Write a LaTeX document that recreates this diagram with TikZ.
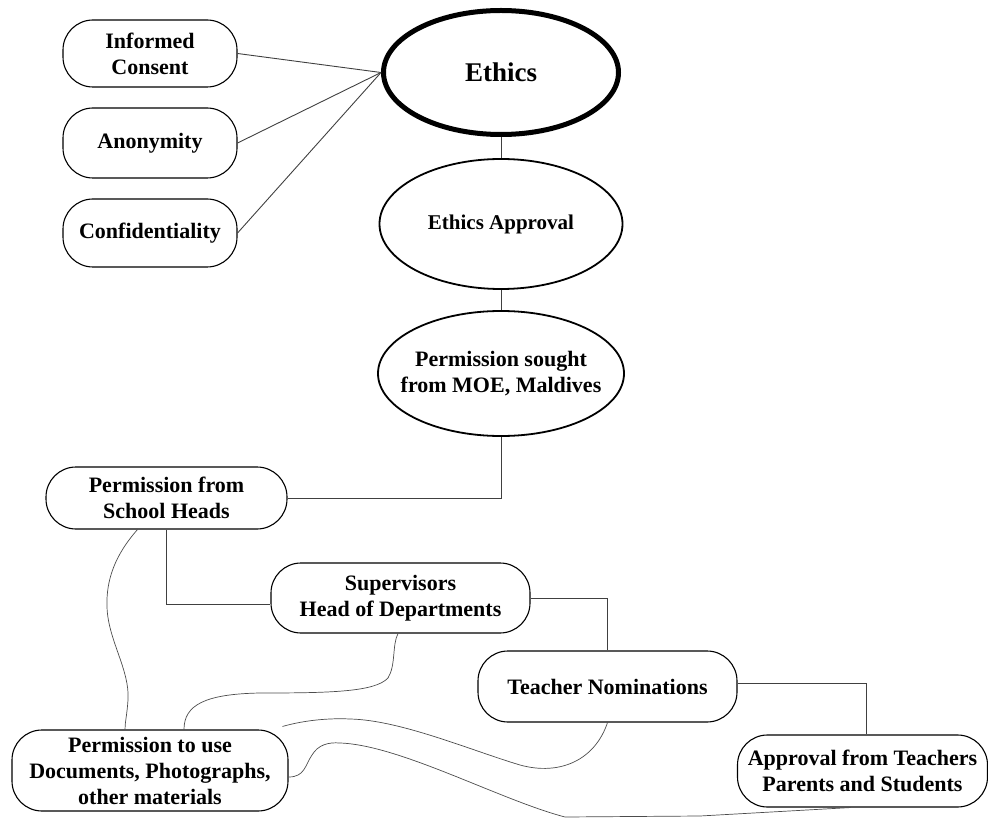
\documentclass[tikz,border=0pt]{standalone}
\usepackage{fontspec}
\setmainfont{Liberation Serif}
\usetikzlibrary{shapes.geometric}
\begin{document}
\begin{tikzpicture}[x=1pt,y=-1pt,
  txt/.style={font=\fontsize{22}{26}\selectfont\bfseries, align=center, inner sep=0pt},
  rbox/.style={txt, draw, line width=1.1pt, rounded corners=30pt},
  ell/.style={draw, ellipse, line width=1.8pt, inner sep=0pt},
  conn/.style={draw=black!75, line width=0.9pt},
  wave/.style={draw=black!70, line width=0.7pt}]
\useasboundingbox (0,0) rectangle (988,818);

% nodes
\node[rbox, minimum width=174pt, minimum height=67pt] (ic) at (150,53.5) {Informed\\Consent};
\node[rbox, minimum width=174pt, minimum height=70pt] (an) at (150,143) {Anonymity};
\node[rbox, minimum width=174pt, minimum height=68pt] (cf) at (150,233) {Confidentiality};
\node[ell, line width=5pt, minimum width=235pt, minimum height=124pt,
      label={[txt, font=\fontsize{27}{30}\selectfont\bfseries]center:Ethics}] (et) at (501,72.5) {};
\node[ell, minimum width=243pt, minimum height=130pt,
      label={[txt, font=\fontsize{21}{26}\selectfont\bfseries]center:Ethics Approval}] (ea) at (501,224) {};
\node[ell, minimum width=246pt, minimum height=125pt,
      label={[txt]center:Permission sought\\from MOE, Maldives}] (ps) at (501,373.5) {};
\node[rbox, minimum width=241pt, minimum height=62pt] (sh) at (166.5,498) {Permission from\\School Heads};
\node[rbox, minimum width=259pt, minimum height=70pt] (sv) at (400.5,598) {Supervisors\\Head of Departments};
\node[rbox, minimum width=259pt, minimum height=71pt] (tn) at (607.5,686.5) {Teacher Nominations};
\node[rbox, minimum width=250pt, minimum height=72pt] (ap) at (862.5,771) {Approval from Teachers\\Parents and Students};
\node[rbox, minimum width=276pt, minimum height=81pt] (pu) at (150,770.5) {Permission to use\\Documents, Photographs,\\other materials};

% straight connectors
\draw[conn] (ic.east) -- (et.west);
\draw[conn] (an.east) -- (et.west);
\draw[conn] (cf.east) -- (et.west);
\draw[conn] (et.south) -- (ea.north);
\draw[conn] (ea.south) -- (ps.north);
\draw[conn] (ps.south) |- (sh.east);
\draw[conn] (sh.south) |- ([yshift=-6pt]sv.west);
\draw[conn] (sv.east) -| (tn.north);
\draw[conn] ([yshift=3pt]tn.east) -| ([xshift=4pt]ap.north);

% wavy connectors
\draw[wave] ([xshift=-29pt]sh.south) .. controls (115,555) and (106,580) .. (107,607)
  .. controls (108,640) and (130,670) .. (128,700)
  .. controls (127,715) and (125,722) .. ([xshift=-25pt]pu.north);
\draw[wave] ([xshift=-2.5pt]sv.south) .. controls (392,645) and (396,665) .. (388,678)
  .. controls (375,692) and (330,693) .. (260,693)
  .. controls (205,694) and (184,705) .. ([xshift=34pt]pu.north);
\draw[wave] (pu.north east) ++(-6pt,3pt) coordinate (p3)
  (p3) .. controls (305,720) and (330,718) .. (350,719)
  .. controls (400,720) and (470,750) .. (520,765)
  .. controls (560,776) and (595,760) .. (tn.south);
\draw[wave] ([yshift=-6.5pt]pu.east) .. controls (305,777) and (305,765) .. (312,755)
  .. controls (318,745) and (328,742) .. (340,743)
  .. controls (400,745) and (500,800) .. (565,817)
  -- (700,816) -- ([xshift=-12pt]ap.south);
\end{tikzpicture}
\end{document}
